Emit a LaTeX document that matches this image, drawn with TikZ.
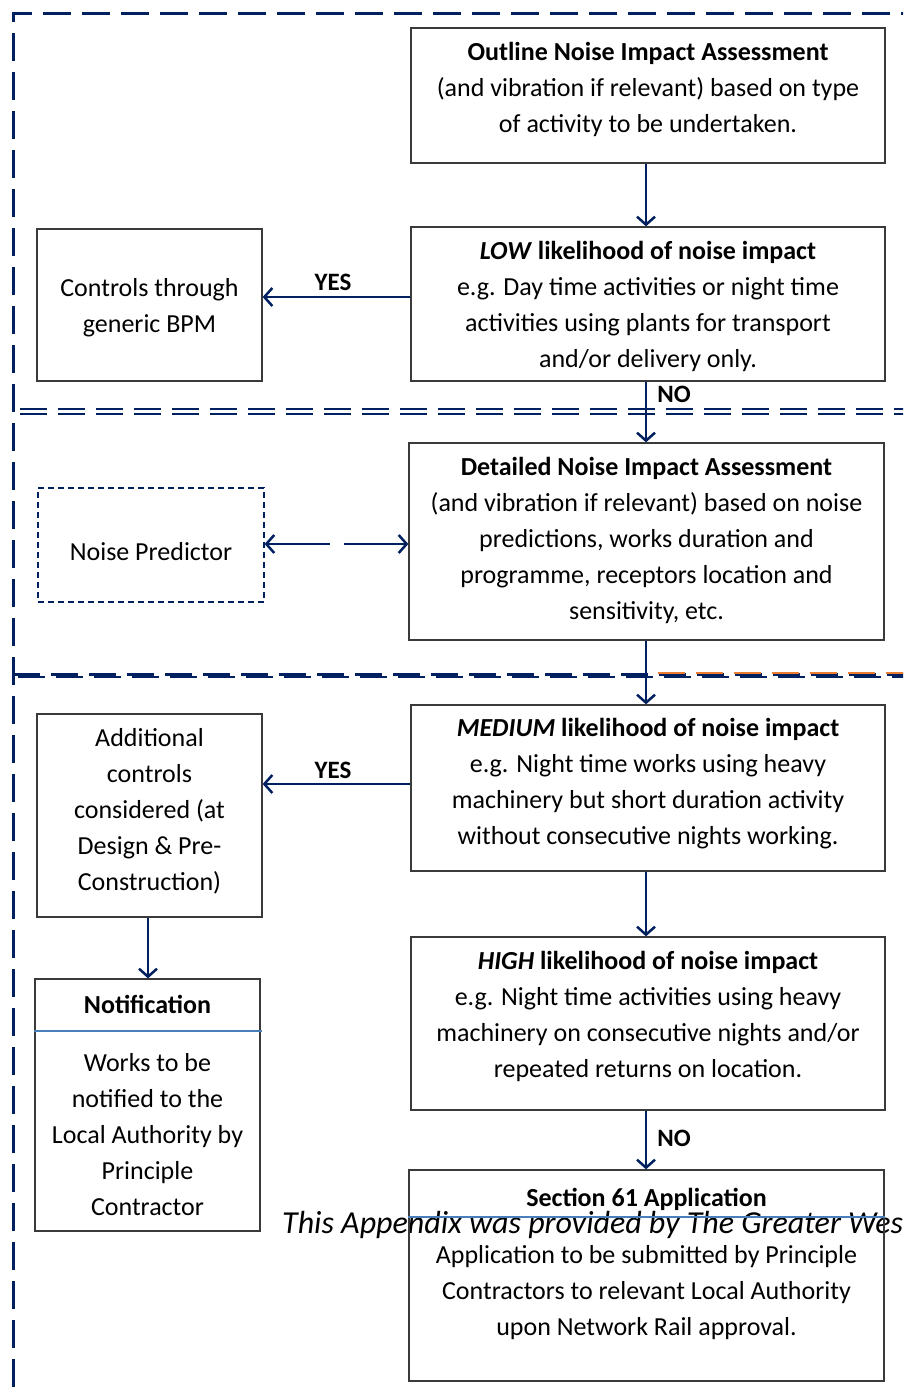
\documentclass[tikz,border=0pt]{standalone}
\usepackage{fontspec}
\setmainfont{Carlito}
\usetikzlibrary{arrows.meta}
\definecolor{navy}{HTML}{002060}
\definecolor{boxgray}{HTML}{3A3A3A}
\definecolor{rulblue}{HTML}{4A7EBB}
\definecolor{orng}{HTML}{ED7D31}
\tikzset{
  box/.style={draw=boxgray, line width=1.3pt, fill=white, inner sep=0pt},
  txt/.style={font=\fontsize{26}{36}\selectfont, align=center, inner sep=0pt,
    anchor=north, execute at begin node=\rule{0pt}{20pt}},
  arr/.style={draw=navy, line width=2.5pt, -{Straight Barb[length=8pt,width=18pt]}},
  lbl/.style={font=\fontsize{25}{28}\selectfont\bfseries, inner sep=0pt},
  border/.style={draw=navy, line width=3pt, dash pattern=on 28pt off 11pt},
}
\begin{document}
\begin{tikzpicture}[x=1pt,y=-1pt]
\useasboundingbox (0,0) rectangle (903,1393);
\begin{scope}
\clip (0,0) rectangle (903,1393);

% section borders
\draw[border, dash phase=26pt] (13,1400) -- (13,13) -- (910,13);
\draw[navy, line width=2pt, dash pattern=on 27pt off 11pt] (20,408.5) -- (910,408.5);
\draw[navy, line width=2pt, dash pattern=on 27pt off 11pt] (20,413.5) -- (910,413.5);
\draw[navy, line width=2.2pt, dash pattern=on 27pt off 11pt] (13,674.5) -- (910,674.5);
\draw[navy, line width=2.2pt, dash pattern=on 27pt off 11pt, dash phase=-5pt] (13,677) -- (910,677);
\draw[orng, line width=2pt, dash pattern=on 27pt off 11pt] (658,672.5) -- (910,672.5);

% boxes
\node[box, minimum width=474pt, minimum height=135pt] (outline) at (648,95.5) {};
\node[box, minimum width=474pt, minimum height=154pt] (low) at (648,304) {};
\node[box, minimum width=225pt, minimum height=152pt] (ctrl) at (149.5,305) {};
\node[draw=navy, line width=1.2pt, dash pattern=on 6pt off 4pt, inner sep=0pt,
      minimum width=226pt, minimum height=114pt] (pred) at (151,545) {};
\node[box, minimum width=475pt, minimum height=197pt] (det) at (646.5,541.5) {};
\node[box, minimum width=474pt, minimum height=166pt] (med) at (648,788) {};
\node[box, minimum width=225pt, minimum height=203pt] (add) at (149.5,815.5) {};
\node[box, minimum width=474pt, minimum height=173pt] (high) at (648,1023.5) {};
\node[box, minimum width=225pt, minimum height=252pt] (notif) at (147.5,1105) {};

% appendix note lying across the lower part
\node[font=\fontsize{32}{36}\selectfont\itshape, anchor=base west, inner sep=0pt] (note)
  at (282,1233) {This Appendix was provided by The Greater Western};

\node[draw=boxgray, line width=1.3pt, inner sep=0pt,
      minimum width=475pt, minimum height=211pt] (s61) at (646.5,1275.5) {};
\draw[rulblue, line width=1.2pt] (notif.west |- 0,1031) -- (262,1031);
\draw[rulblue, line width=1.2pt] (s61.west |- 0,1217) -- (s61.east |- 0,1217);

% texts
\node[txt] (outlineT) at (648,42.5) {\textbf{Outline Noise Impact Assessment}\\
  (and vibration if relevant) based on type\\ of activity to be undertaken.};
\node[txt] (lowT) at (648,241.5) {\textbf{\textit{LOW} likelihood of noise impact}\\
  e.g. Day time activities or night time\\ activities using plants for transport\\
  and/or delivery only.};
\node[txt] (ctrlT) at (149.5,278.5) {Controls through\\ generic BPM};
\node[txt] (predT) at (151,540.5) {Noise Predictor};
\node[txt] (detT) at (646.5,457.5) {\textbf{Detailed Noise Impact Assessment}\\
  (and vibration if relevant) based on noise\\ predictions, works duration and\\
  programme, receptors location and\\ sensitivity, etc.};
\node[txt] (medT) at (648,718.5) {\textbf{\textit{MEDIUM} likelihood of noise impact}\\
  e.g. Night time works using heavy\\ machinery but short duration activity\\
  without consecutive nights working.};
\node[txt] (addT) at (149.5,728.5) {Additional\\ controls\\ considered (at\\ Design \& Pre-\\ Construction)};
\node[txt] (highT) at (648,951.5) {\textbf{\textit{HIGH} likelihood of noise impact}\\
  e.g. Night time activities using heavy\\ machinery on consecutive nights and/or\\
  repeated returns on location.};
\node[txt] (notifH) at (147.5,993.5) {\textbf{Notification}};
\node[txt] (notifT) at (147.5,1053.5) {Works to be\\ notified to the\\ Local Authority by\\ Principle\\ Contractor};
\node[txt] (s61H) at (646.5,1186.5) {\textbf{Section 61 Application}};
\node[txt] (s61T) at (646.5,1245.5) {Application to be submitted by Principle\\
  Contractors to relevant Local Authority\\ upon Network Rail approval.};

% connectors
\draw[arr] (outline.south -| 646,0) -- (low.north -| 646,0);
\draw[arr] (low.west |- 0,297) -- (ctrl.east |- 0,297);
\node[lbl] (yes1) at (333,282) {YES};
\draw[arr] (low.south -| 646,0) -- (det.north -| 646,0);
\node[lbl] (no1) at (674,394) {NO};
\draw[navy, line width=2.5pt, dash pattern=on 62pt off 14pt,
      {Straight Barb[length=8pt,width=18pt]}-{Straight Barb[length=8pt,width=18pt]}]
  (pred.east |- 0,544) -- (det.west |- 0,544);
\draw[arr] (det.south -| 646,0) -- (med.north -| 646,0);
\draw[arr] (med.west |- 0,784) -- (add.east |- 0,784);
\node[lbl] (yes2) at (333,770) {YES};
\draw[arr] (med.south -| 646,0) -- (high.north -| 646,0);
\draw[arr] (add.south -| 148,0) -- (notif.north -| 148,0);
\draw[arr] (high.south -| 646,0) -- (s61.north -| 646,0);
\node[lbl] (no2) at (674,1138) {NO};
\end{scope}
\end{tikzpicture}
\end{document}
